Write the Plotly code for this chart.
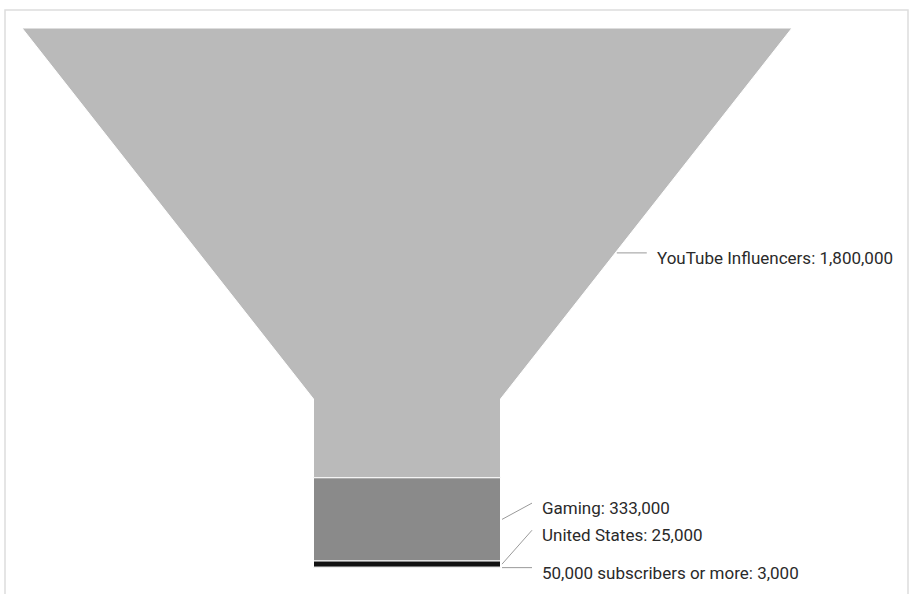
import plotly.graph_objects as go

# ---- data ----
stages = ["YouTube Influencers", "Gaming", "United States", "50,000 subscribers or more"]
values = [1800000, 333000, 25000, 3000]
colors = ["#bababa", "#8a8a8a", "#111111", "#3a3a3a"]
label_dy_px = [0, -16.3, -33.9, 0]   # label placement nudges (pixels) to avoid overlap

# ---- layout geometry (pixels) ----
W, H = 910, 594
TOP_PX, BOT_PX = 28, 568
CX_PX, TOPW_PX = 407, 770
NECK_W = 187 / 770        # neck width as fraction of top width
NECK_H = 0.313            # neck height as fraction of funnel height

total = sum(values)
vpp = total / (BOT_PX - TOP_PX)   # value units per pixel (y)
upp = 1.0 / TOPW_PX               # width units per pixel (x)
neck_y = total * (1 - NECK_H)


def half_width(y):
    if y >= neck_y:
        return NECK_W / 2
    return 0.5 - (0.5 - NECK_W / 2) * y / neck_y


fig = go.Figure()

cum = 0
for name, v, c in zip(stages, values, colors):
    y0, y1 = cum, cum + v
    right = [(half_width(y0), y0)]
    if y0 < neck_y < y1:
        right.append((half_width(neck_y), neck_y))
    right.append((half_width(y1), y1))
    left = [(-x, y) for x, y in reversed(right)]
    pts = right + left + [right[0]]
    fig.add_trace(go.Scatter(
        x=[p[0] for p in pts], y=[p[1] for p in pts],
        mode="lines", fill="toself", fillcolor=c,
        line=dict(color="white", width=1),
        hoverinfo="skip", showlegend=False,
    ))
    cum = y1

# labels with leader lines
cum = 0
annotations = []
for i, (name, v) in enumerate(zip(stages, values)):
    mid = cum + v / 2
    x0 = half_width(mid) + 1.5 * upp
    ly = mid + label_dy_px[i] * vpp
    x1 = x0 + 30 * upp
    fig.add_trace(go.Scatter(
        x=[x0, x1], y=[mid, ly], mode="lines",
        line=dict(color="#9a9a9a", width=1),
        hoverinfo="skip", showlegend=False,
    ))
    annotations.append(dict(
        x=x1 + 8 * upp, y=ly, xref="x", yref="y",
        text=f"{name}: {v:,}", showarrow=False,
        xanchor="left", yanchor="middle", yshift=-5,
        font=dict(family="Roboto", size=17, color="#2a2a2a"),
    ))
    cum += v

fig.update_layout(
    width=W, height=H,
    margin=dict(l=0, r=0, t=0, b=0),
    paper_bgcolor="white", plot_bgcolor="white",
    xaxis=dict(visible=False, range=[-CX_PX * upp, (W - CX_PX) * upp], fixedrange=True),
    yaxis=dict(visible=False, range=[(H - TOP_PX) * vpp, -TOP_PX * vpp], fixedrange=True),
    annotations=annotations,
    shapes=[dict(type="rect", xref="paper", yref="paper",
                 x0=5 / W, x1=908 / W, y0=-0.05, y1=1 - 10 / H,
                 line=dict(color="#dddddd", width=1.5), layer="below")],
    hovermode=False,
    showlegend=False,
)

fig.write_html("out.html")
